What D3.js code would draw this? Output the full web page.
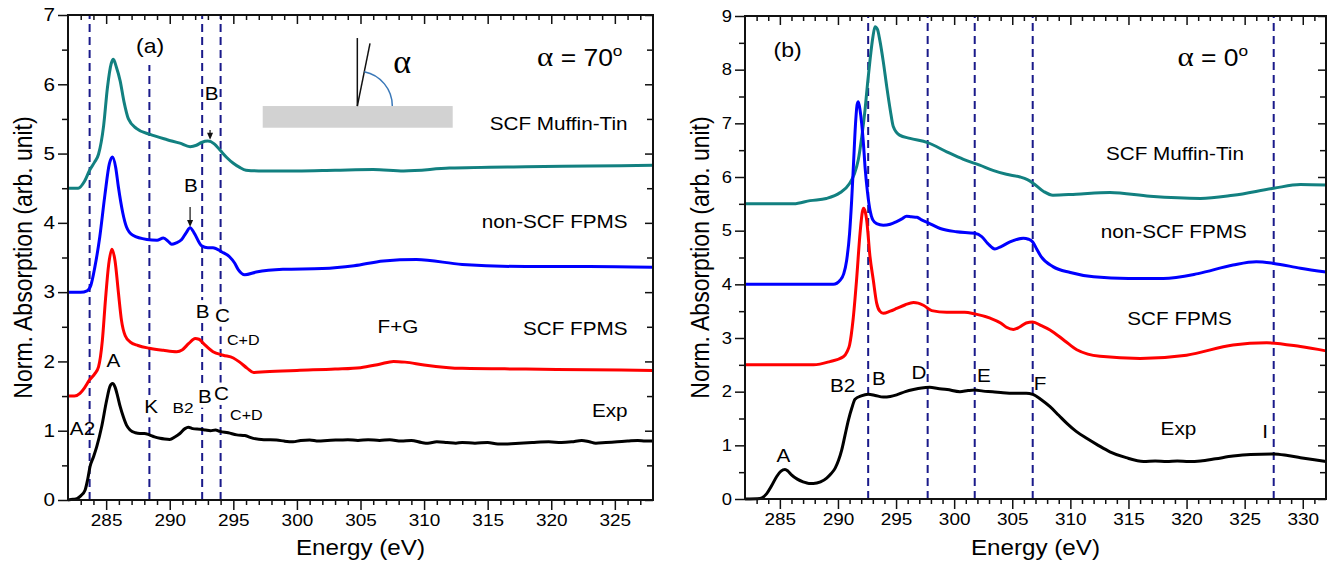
<!DOCTYPE html>
<html><head><meta charset="utf-8">
<script src="https://cdn.jsdelivr.net/npm/d3@7"></script>
<style>
body{margin:0;background:#fff}
svg{display:block}
text{font-family:"Liberation Sans",Arial,sans-serif;fill:#000}
</style></head><body>
<svg id="fig" width="1338" height="564"></svg>
<script>
// ---------- panel (a): alpha = 70 deg, [energy eV, normalized absorption] ----------
const aMuffinTin = [[282,4.5],[282.8,4.5],[283.3,4.6],[283.7,4.76],[284.1,4.88],[284.4,4.99],[284.8,5.4],[285.1,5.95],[285.4,6.3],[285.57,6.36],[285.8,6.25],[286.1,6.05],[286.4,5.75],[286.75,5.5],[287.4,5.36],[288.4,5.28],[289.8,5.2],[290.8,5.15],[291.6,5.1],[292.1,5.12],[292.5,5.16],[293.0,5.18],[293.5,5.14],[293.95,5.05],[294.5,4.94],[295,4.86],[295.5,4.8],[296,4.76],[297,4.75],[300,4.75],[303,4.76],[306,4.77],[308.4,4.75],[312,4.79],[318,4.81],[323,4.82],[328,4.83]];
const aNonSCF = [[282,3.0],[283,3.0],[283.5,3.02],[283.8,3.1],[284.1,3.35],[284.5,3.8],[284.9,4.4],[285.25,4.85],[285.5,4.95],[285.75,4.8],[285.96,4.52],[286.3,4.15],[286.6,3.94],[287.1,3.82],[288.2,3.76],[289.0,3.75],[289.5,3.78],[289.9,3.73],[290.15,3.69],[290.5,3.71],[290.94,3.76],[291.3,3.86],[291.6,3.93],[291.9,3.86],[292.5,3.67],[293.0,3.64],[293.4,3.64],[294.1,3.58],[294.7,3.51],[295.1,3.42],[295.4,3.32],[295.9,3.25],[296.8,3.29],[298.9,3.33],[302,3.34],[304.5,3.38],[306.8,3.45],[309.4,3.47],[313,3.4],[318,3.37],[323,3.37],[328,3.36]];
const aSCF = [[282,1.5],[282.5,1.5],[282.94,1.54],[283.3,1.62],[283.68,1.73],[284.1,1.82],[284.4,1.92],[284.7,2.3],[284.95,2.9],[285.2,3.4],[285.45,3.62],[285.7,3.45],[285.96,3.0],[286.2,2.6],[286.5,2.37],[286.9,2.28],[287.5,2.23],[288.4,2.19],[289.5,2.16],[290.55,2.14],[291.0,2.17],[291.5,2.26],[292.0,2.33],[292.3,2.32],[292.7,2.25],[293.4,2.14],[294.2,2.09],[295,2.05],[295.5,1.99],[296.1,1.9],[296.6,1.84],[297.5,1.85],[300,1.87],[303,1.89],[305,1.91],[306.5,1.96],[307.6,2.0],[308.5,1.99],[310,1.95],[313,1.9],[318,1.89],[323,1.88],[328,1.87]];
const aExp = [[282,0],[282.4,0.01],[282.7,0.02],[283.0,0.06],[283.34,0.14],[283.55,0.3],[283.73,0.48],[284.0,0.62],[284.26,0.77],[284.65,1.06],[285.04,1.44],[285.3,1.64],[285.5,1.68],[285.7,1.63],[285.9,1.5],[286.1,1.35],[286.35,1.2],[286.6,1.08],[286.88,1.01],[287.3,0.97],[287.66,0.96],[288.0,0.96],[288.4,0.94],[288.8,0.91],[289.23,0.89],[289.6,0.88],[290,0.875],[290.4,0.91],[290.8,0.96],[291.2,1.03],[291.46,1.05],[291.8,1.03],[292.4,1.02],[292.8,1.01],[293.2,1.0],[293.6,1.01],[293.95,0.99],[294.6,0.97],[295.27,0.94],[295.9,0.93],[296.57,0.89],[297.4,0.87],[298.4,0.866],[299.0,0.85],[299.7,0.84],[300.3,0.86],[301,0.866],[301.7,0.85],[302.4,0.86],[303.4,0.866],[304,0.87],[304.8,0.86],[305.6,0.87],[306.5,0.86],[307.3,0.87],[308.2,0.85],[309.0,0.86],[309.8,0.83],[310.3,0.82],[311,0.84],[311.8,0.83],[312.5,0.82],[313,0.83],[314,0.82],[315,0.83],[315.8,0.81],[316.6,0.81],[317.5,0.82],[318.5,0.83],[319.8,0.84],[320.8,0.83],[321.6,0.84],[322.4,0.86],[323.0,0.84],[323.5,0.82],[324.3,0.83],[325.2,0.84],[326,0.85],[326.8,0.86],[327.4,0.85],[328,0.85]];
const aMarkers = [283.7, 288.4, 292.55, 294.0];
const aXTicks = [285, 290, 295, 300, 305, 310, 315, 320, 325];
const aYTicks = [0, 1, 2, 3, 4, 5, 6, 7];

// ---------- panel (b): alpha = 0 deg ----------
const bMuffinTin = [[282,5.5],[286.2,5.5],[287.6,5.56],[289.0,5.6],[290.2,5.71],[291.0,5.88],[291.4,6.05],[291.75,6.32],[292.05,6.75],[292.33,7.25],[292.55,7.75],[292.76,8.18],[293.0,8.6],[293.19,8.8],[293.4,8.75],[293.6,8.55],[293.9,8.15],[294.2,7.68],[294.5,7.25],[294.76,6.94],[295.3,6.78],[296.2,6.72],[297.72,6.64],[299.36,6.47],[300.8,6.33],[302.2,6.22],[303.4,6.12],[304.5,6.05],[305.67,6.0],[306.3,5.95],[306.76,5.89],[307.7,5.73],[308.5,5.66],[310.5,5.68],[313.4,5.71],[316.85,5.64],[321.2,5.6],[324,5.66],[327.5,5.79],[329.8,5.86],[332,5.85]];
const bNonSCF = [[282,4.0],[289.6,4.0],[290.2,4.08],[290.5,4.2],[290.75,4.45],[291.0,4.95],[291.18,5.57],[291.35,6.3],[291.5,6.95],[291.65,7.35],[291.75,7.4],[291.9,7.25],[292.04,7.0],[292.2,6.6],[292.33,6.19],[292.55,5.7],[292.76,5.38],[293.0,5.2],[293.33,5.13],[293.9,5.1],[294.5,5.12],[295.05,5.17],[295.5,5.22],[295.9,5.27],[296.3,5.26],[296.8,5.25],[297.2,5.2],[297.72,5.15],[298.8,5.04],[300.2,4.98],[301.77,4.95],[302.37,4.89],[302.9,4.76],[303.5,4.66],[304.0,4.7],[304.8,4.79],[305.95,4.86],[306.4,4.84],[306.76,4.79],[307.1,4.66],[307.5,4.51],[308.5,4.33],[310,4.22],[312,4.14],[315,4.11],[318,4.11],[321,4.2],[324,4.36],[326,4.42],[327.5,4.39],[329.8,4.3],[332,4.23]];
const bSCF = [[282,2.5],[287.9,2.5],[289.3,2.56],[290.46,2.65],[290.8,2.75],[291.0,2.87],[291.3,3.34],[291.6,4.08],[291.9,4.95],[292.1,5.35],[292.2,5.42],[292.35,5.35],[292.47,5.2],[292.76,4.51],[293.04,4.08],[293.33,3.65],[293.6,3.5],[293.9,3.46],[294.5,3.5],[295.05,3.55],[295.8,3.62],[296.5,3.66],[296.9,3.65],[297.35,3.61],[298.07,3.51],[299.36,3.48],[300.9,3.48],[301.77,3.45],[303.1,3.37],[304.0,3.28],[304.5,3.2],[305.1,3.16],[305.6,3.2],[306.2,3.28],[306.76,3.30],[307.5,3.23],[308.25,3.15],[309.5,2.95],[310.55,2.78],[311.5,2.7],[312.55,2.66],[316,2.62],[320,2.68],[324,2.87],[326.9,2.91],[329.8,2.84],[332,2.76]];
const bExp = [[282,0],[283.3,0.01],[283.87,0.1],[284.3,0.25],[284.73,0.42],[285.1,0.52],[285.44,0.55],[285.7,0.52],[286.0,0.45],[286.5,0.37],[287.0,0.32],[287.5,0.29],[287.88,0.29],[288.5,0.32],[289.03,0.39],[289.4,0.47],[289.75,0.57],[290.05,0.72],[290.32,0.91],[290.6,1.18],[290.9,1.47],[291.2,1.7],[291.47,1.86],[292.0,1.92],[292.6,1.95],[293.2,1.93],[293.9,1.9],[294.5,1.91],[295.05,1.94],[295.8,2.0],[296.5,2.04],[297.2,2.07],[297.9,2.08],[298.6,2.06],[299.4,2.04],[300.5,2.0],[301.2,2.02],[301.77,2.03],[302.5,2.01],[303.3,2.0],[304.2,1.98],[305.2,1.97],[306.2,1.97],[306.76,1.95],[307.5,1.85],[308.25,1.72],[309.0,1.56],[309.7,1.41],[310.5,1.26],[311.4,1.13],[312.4,1.0],[313.4,0.88],[314.8,0.77],[316.3,0.70],[317.3,0.71],[318.3,0.70],[319.2,0.71],[320.2,0.70],[321.2,0.71],[322.5,0.75],[324,0.80],[325.5,0.83],[327.5,0.84],[328.7,0.81],[329.8,0.77],[331,0.73],[332,0.70]];
const bMarkers = [292.6, 297.72, 301.77, 306.76, 327.5];
const bXTicks = [285, 290, 295, 300, 305, 310, 315, 320, 325, 330];
const bYTicks = [0, 1, 2, 3, 4, 5, 6, 7, 8, 9];

const COLORS = {mt: "#128080", ns: "#0000ff", scf: "#ff0000", exp: "#000000"};
const SX = 1.15;          // horizontal glyph stretch of the figure's lettering
const svg = d3.select("#fig");
const intFmt = d3.format("d");

function stretchAxisText(sel) {
  sel.each(function () {
    const t = d3.select(this);
    const x = +t.attr("x") || 0, y = +t.attr("y") || 0;
    t.attr("x", null).attr("y", null)
     .attr("transform", `translate(${x},${y}) scale(${SX},1)`);
  });
}

function drawPanel(p) {
  const g = svg.append("g");
  const x = d3.scaleLinear().domain(p.xDom).range([p.l, p.r]);
  const y = d3.scaleLinear().domain(p.yDom).range([p.b, p.t]);
  const xMinor = d3.range(p.xDom[0] + 1, p.xDom[1]).filter(v => v % 5 !== 0);
  const yMinor = d3.range(p.yDom[0] + 0.5, p.yDom[1], 1);

  // vertical dashed feature markers
  p.markers.forEach((m, i) => {
    const top = (p.markerTop && p.markerTop[i] != null) ? p.markerTop[i] : p.yDom[1];
    g.append("line").attr("x1", x(m)).attr("x2", x(m))
      .attr("y1", y(0)).attr("y2", y(top))
      .attr("stroke", "#1a1a8a").attr("stroke-width", 2).attr("stroke-dasharray", "8,5");
  });

  // annotation labels
  p.labels.forEach(L => {
    const t = g.append("text")
      .attr("transform", `translate(${x(L.e)},${y(L.v)}) scale(${SX},1)`)
      .attr("text-anchor", L.anchor || "middle")
      .style("font-size", (L.size || 18) + "px")
      .text(L.t);
    if (L.bg) {
      const bb = t.node().getBBox();
      g.insert("rect", "text")
        .attr("x", x(L.e) + bb.x * SX - 2).attr("y", y(L.v) + bb.y - 1)
        .attr("width", bb.width * SX + 4).attr("height", bb.height + 2)
        .attr("fill", "#fff");
    }
  });

  // spectra
  const line = d3.line().x(d => x(d[0])).y(d => y(d[1])).curve(d3.curveMonotoneX);
  p.series.forEach(s => {
    g.append("path").datum(s.data).attr("d", line)
      .attr("fill", "none").attr("stroke", s.color).attr("stroke-width", 3)
      .attr("stroke-linejoin", "round");
  });

  // axes
  const bottom = g.append("g").attr("transform", `translate(0,${p.b})`)
    .call(d3.axisBottom(x).tickValues(p.xTicks).tickFormat(intFmt).tickSize(10).tickPadding(4).tickSizeOuter(0));
  bottom.selectAll("text").style("font-size", "16.5px").call(stretchAxisText);
  g.append("g").attr("transform", `translate(0,${p.b})`)
    .call(d3.axisBottom(x).tickValues(xMinor).tickSize(5).tickFormat("").tickSizeOuter(0));
  g.append("g").attr("transform", `translate(0,${p.t})`)
    .call(d3.axisTop(x).tickValues(p.xTicks).tickSize(-9).tickFormat("").tickSizeOuter(0));
  g.append("g").attr("transform", `translate(0,${p.t})`)
    .call(d3.axisTop(x).tickValues(xMinor).tickSize(-5).tickFormat("").tickSizeOuter(0));

  const left = g.append("g").attr("transform", `translate(${p.l},0)`)
    .call(d3.axisLeft(y).tickValues(p.yTicks).tickFormat(intFmt).tickSize(10).tickPadding(3).tickSizeOuter(0));
  left.selectAll("text").style("font-size", p.yTickSize + "px").call(stretchAxisText);
  g.append("g").attr("transform", `translate(${p.l},0)`)
    .call(d3.axisLeft(y).tickValues(yMinor).tickSize(6).tickFormat("").tickSizeOuter(0));
  g.append("g").attr("transform", `translate(${p.r},0)`)
    .call(d3.axisRight(y).tickValues(p.yTicks).tickSize(-8).tickFormat("").tickSizeOuter(0));
  g.append("g").attr("transform", `translate(${p.r},0)`)
    .call(d3.axisRight(y).tickValues(yMinor).tickSize(-6).tickFormat("").tickSizeOuter(0));

  g.selectAll(".domain").remove();
  g.selectAll(".tick line").attr("stroke", "#111").attr("stroke-width", 1.5);
  g.append("rect").attr("x", p.l).attr("y", p.t).attr("width", p.r - p.l).attr("height", p.b - p.t)
    .attr("fill", "none").attr("stroke", "#111").attr("stroke-width", 2);

  // axis titles
  g.append("text").attr("transform", `translate(${(p.l + p.r) / 2},555) scale(1.1,1)`)
    .attr("text-anchor", "middle").style("font-size", "22px").text("Energy (eV)");
  g.append("text").attr("transform", `translate(${p.l - 36},${(p.t + p.b) / 2}) rotate(-90) scale(1,${SX})`)
    .attr("text-anchor", "middle").style("font-size", "23px").text("Norm. Absorption (arb. unit)");

  // panel id and polarization angle
  g.append("text").attr("transform", `translate(${x(p.id.e)},${y(p.id.v)}) scale(${SX},1)`)
    .attr("text-anchor", "middle").style("font-size", "20px").text(p.id.t);
  const ang = g.append("text").attr("transform", `translate(${x(p.angle.e)},${y(p.angle.v)}) scale(${SX},1)`)
    .attr("text-anchor", "end").style("font-size", "23px");
  ang.append("tspan").style("font-family", "'Liberation Serif',serif").style("font-size", "27px").text("α");
  ang.append("tspan").text(" = " + p.angle.t);
  ang.append("tspan").attr("dy", -10).style("font-size", "15px").text("o");

  return {g, x, y};
}

// ---------- panel (a) ----------
const A = drawPanel({
  l: 68, r: 653, t: 15, b: 500, xDom: [282, 328], yDom: [0, 7],
  xTicks: aXTicks, yTicks: aYTicks, yTickSize: 18,
  markers: aMarkers, markerTop: [null, 6.28, null, null],
  id: {t: "(a)", e: 288.45, v: 6.45},
  angle: {t: "70", e: 325.6, v: 6.27},
  series: [
    {data: aMuffinTin, color: COLORS.mt},
    {data: aNonSCF, color: COLORS.ns},
    {data: aSCF, color: COLORS.scf},
    {data: aExp, color: COLORS.exp}
  ],
  labels: [
    {t: "SCF Muffin-Tin", e: 326, v: 5.34, anchor: "end"},
    {t: "non-SCF FPMS", e: 326, v: 3.93, anchor: "end"},
    {t: "SCF FPMS", e: 326, v: 2.38, anchor: "end"},
    {t: "Exp", e: 326, v: 1.2, anchor: "end"},
    {t: "F+G", e: 307.95, v: 2.41},
    {t: "B", e: 293.3, v: 5.77},
    {t: "B", e: 291.67, v: 4.45},
    {t: "B", e: 292.58, v: 2.63, bg: true},
    {t: "C", e: 294.15, v: 2.57, bg: true},
    {t: "C+D", e: 294.5, v: 2.24, anchor: "start", size: 14},
    {t: "A", e: 285.58, v: 1.92},
    {t: "A2", e: 283.14, v: 0.94},
    {t: "K", e: 288.53, v: 1.26, bg: true},
    {t: "B2", e: 291.04, v: 1.26, size: 15},
    {t: "B", e: 292.77, v: 1.4, bg: true},
    {t: "C", e: 294.07, v: 1.44, bg: true},
    {t: "C+D", e: 294.74, v: 1.15, anchor: "start", size: 14}
  ]
});

// arrows pointing at feature B
[[293.17, 5.34, 5.2], [291.6, 4.23, 3.94]].forEach(([e, v0, v1]) => {
  const px = A.x(e), y0 = A.y(v0), y1 = A.y(v1);
  A.g.append("line").attr("x1", px).attr("x2", px).attr("y1", y0).attr("y2", y1 - 5)
    .attr("stroke", "#111").attr("stroke-width", 1.2);
  A.g.append("path").attr("d", `M${px - 3},${y1 - 7}L${px + 3},${y1 - 7}L${px},${y1}Z`).attr("fill", "#111");
});

// geometry sketch: surface, beam direction and angle alpha
(function () {
  const ox = A.x(304.75), oy = A.y(5.686);
  const inset = A.g.append("g");
  inset.append("rect").attr("x", A.x(297.31)).attr("y", oy)
    .attr("width", A.x(312.25) - A.x(297.31)).attr("height", A.y(5.373) - oy).attr("fill", "#d2d2d2");
  inset.append("line").attr("x1", ox).attr("y1", oy).attr("x2", ox).attr("y2", oy - 68)
    .attr("stroke", "#111").attr("stroke-width", 1.5);
  inset.append("line").attr("x1", ox).attr("y1", oy).attr("x2", ox + 12.7).attr("y2", oy - 62.7)
    .attr("stroke", "#111").attr("stroke-width", 1.5);
  const r = 35, th = Math.atan2(62.7, 12.7);
  inset.append("path")
    .attr("d", `M${ox + r * Math.cos(th)},${oy - r * Math.sin(th)} A${r},${r} 0 0 1 ${ox + r},${oy}`)
    .attr("fill", "none").attr("stroke", "#3a78b8").attr("stroke-width", 1.5);
  inset.append("text").attr("x", ox + 36).attr("y", oy - 33)
    .style("font-family", "'Liberation Serif',serif").style("font-size", "34px").text("α");
})();

// ---------- panel (b) ----------
drawPanel({
  l: 745, r: 1326, t: 16, b: 499, xDom: [282, 332], yDom: [0, 9],
  xTicks: bXTicks, yTicks: bYTicks, yTickSize: 16,
  markers: bMarkers,
  id: {t: "(b)", e: 285.66, v: 8.24},
  angle: {t: "0", e: 325.3, v: 8.07},
  series: [
    {data: bMuffinTin, color: COLORS.mt},
    {data: bNonSCF, color: COLORS.ns},
    {data: bSCF, color: COLORS.scf},
    {data: bExp, color: COLORS.exp}
  ],
  labels: [
    {t: "SCF Muffin-Tin", e: 319.0, v: 6.32},
    {t: "non-SCF FPMS", e: 318.9, v: 4.86},
    {t: "SCF FPMS", e: 319.4, v: 3.24},
    {t: "Exp", e: 319.3, v: 1.19},
    {t: "I", e: 326.75, v: 1.14},
    {t: "F", e: 307.4, v: 2.03},
    {t: "A", e: 285.3, v: 0.69},
    {t: "B2", e: 290.4, v: 1.99},
    {t: "B", e: 293.53, v: 2.12},
    {t: "D", e: 296.97, v: 2.24},
    {t: "E", e: 302.57, v: 2.18}
  ]
});
</script>
</body></html>
